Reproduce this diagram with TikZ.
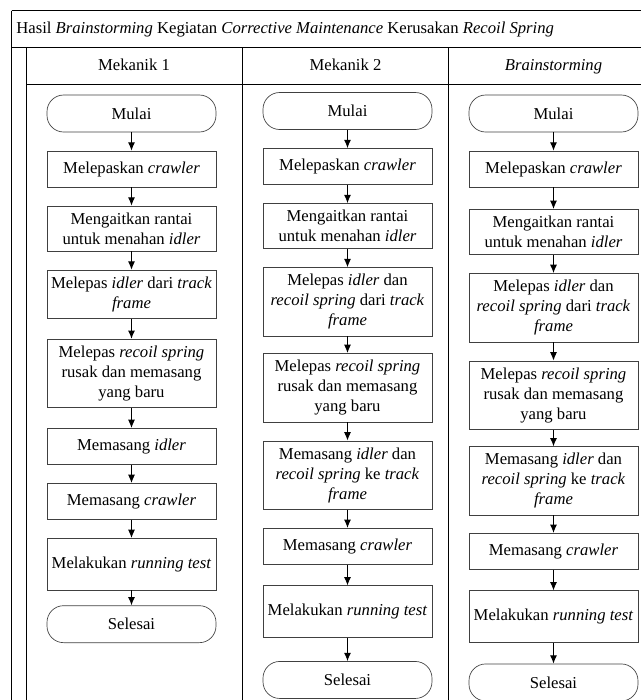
\documentclass[tikz,border=0pt]{standalone}
\usepackage{fontspec}
\setmainfont{Liberation Serif}
\usetikzlibrary{arrows.meta,positioning}

\begin{document}
\begin{tikzpicture}[>={Latex[length=5pt,width=4.2pt]}, x=0.6pt, y=-0.6pt]
        \tikzset{proses/.style={draw=black!75,
                shape=rectangle,
                align=center,
                inner xsep=2pt,
                inner ysep=4pt,
                minimum width=101.4pt,
                minimum height=21.6pt
            },
            terminal/.style={proses,
                rounded corners=1em,
                minimum height=22.2pt
            },
            kolom/.style={anchor=base, inner sep=0pt},
            garis/.style={line width=0.6pt},
        }
\clip (0,0) rectangle (641,700);
%% tabel
\draw[garis]
    (11.7,10.7) -- (680,10.7)
    (11.7,47) -- (680,47)
    (26,84) -- (680,84)
    (11.7,10.7) -- (11.7,720)
    (26,47) -- (26,720)
    (242.5,47) -- (242.5,720)
    (448.5,47) -- (448.5,720)
;
\node [anchor=base west, inner sep=0pt] (judul) at (16,33)
    {Hasil \textit{Brainstorming} Kegiatan \textit{Corrective Maintenance} Kerusakan \textit{Recoil Spring}};
\node [kolom] (kolom1) at (134,70) {Mekanik 1};
\node [kolom] (kolom2) at (345.5,70) {Mekanik 2};
\node [kolom] (kolom3) at (553.5,70) {\textit{Brainstorming}};
%% mekanik 1
\node [terminal] (mulai1) at (131.5,113.5) {Mulai};
\node [proses, below =11pt of mulai1] (lepas1)
    {Melepaskan \textit{crawler}};
\node [proses, below =11pt of lepas1] (kait1)
    {Mengaitkan rantai\\untuk menahan \textit{idler}};
\node [proses, below =11pt of kait1] (idler1)
    {Melepas \textit{idler} dari \textit{track}\\\textit{frame}};
\node [proses, below =12pt of idler1] (spring1)
    {Melepas \textit{recoil spring}\\rusak dan memasang\\yang baru};
\node [proses, below =12pt of spring1] (pasang1)
    {Memasang \textit{idler}};
\node [proses, below =11pt of pasang1] (crawler1)
    {Memasang \textit{crawler}};
\node [proses, below =11pt of crawler1, minimum height=31pt] (tes1)
    {Melakukan \textit{running test}};
\node [terminal, below =9pt of tes1] (selesai1) {Selesai};
%% mekanik 2
\node [terminal] (mulai2) at (347.5,111) {Mulai};
\node [proses, below =11pt of mulai2] (lepas2)
    {Melepaskan \textit{crawler}};
\node [proses, below =11pt of lepas2] (kait2)
    {Mengaitkan rantai\\untuk menahan \textit{idler}};
\node [proses, below =11pt of kait2] (idler2)
    {Melepas \textit{idler} dan\\\textit{recoil spring} dari \textit{track}\\\textit{frame}};
\node [proses, below =10pt of idler2] (spring2)
    {Melepas \textit{recoil spring}\\rusak dan memasang\\yang baru};
\node [proses, below =11pt of spring2] (pasang2)
    {Memasang \textit{idler} dan\\\textit{recoil spring} ke \textit{track}\\\textit{frame}};
\node [proses, below =11pt of pasang2] (crawler2)
    {Memasang \textit{crawler}};
\node [proses, below =12.5pt of crawler2, minimum height=31pt] (tes2)
    {Melakukan \textit{running test}};
\node [terminal, below =14pt of tes2] (selesai2) {Selesai};
%% brainstorming
\node [terminal] (mulai3) at (553.5,113.5) {Mulai};
\node [proses, below =11pt of mulai3] (lepas3)
    {Melepaskan \textit{crawler}};
\node [proses, below =13pt of lepas3] (kait3)
    {Mengaitkan rantai\\untuk menahan \textit{idler}};
\node [proses, below =11pt of kait3] (idler3)
    {Melepas \textit{idler} dan\\\textit{recoil spring} dari \textit{track}\\\textit{frame}};
\node [proses, below =11pt of idler3] (spring3)
    {Melepas \textit{recoil spring}\\rusak dan memasang\\yang baru};
\node [proses, below =10pt of spring3] (pasang3)
    {Memasang \textit{idler} dan\\\textit{recoil spring} ke \textit{track}\\\textit{frame}};
\node [proses, below =10.5pt of pasang3] (crawler3)
    {Memasang \textit{crawler}};
\node [proses, below =12.5pt of crawler3, minimum height=31pt] (tes3)
    {Melakukan \textit{running test}};
\node [terminal, below =12.5pt of tes3] (selesai3) {Selesai};
%% paths
\path[draw,->,line width=0.6pt]
    (mulai1) edge (lepas1)
    (lepas1) edge (kait1)
    (kait1) edge (idler1)
    (idler1) edge (spring1)
    (spring1) edge (pasang1)
    (pasang1) edge (crawler1)
    (crawler1) edge (tes1)
    (tes1) edge (selesai1)
    (mulai2) edge (lepas2)
    (lepas2) edge (kait2)
    (kait2) edge (idler2)
    (idler2) edge (spring2)
    (spring2) edge (pasang2)
    (pasang2) edge (crawler2)
    (crawler2) edge (tes2)
    (tes2) edge (selesai2)
    (mulai3) edge (lepas3)
    (lepas3) edge (kait3)
    (kait3) edge (idler3)
    (idler3) edge (spring3)
    (spring3) edge (pasang3)
    (pasang3) edge (crawler3)
    (crawler3) edge (tes3)
    (tes3) edge (selesai3)
;
\end{tikzpicture}
\end{document}
